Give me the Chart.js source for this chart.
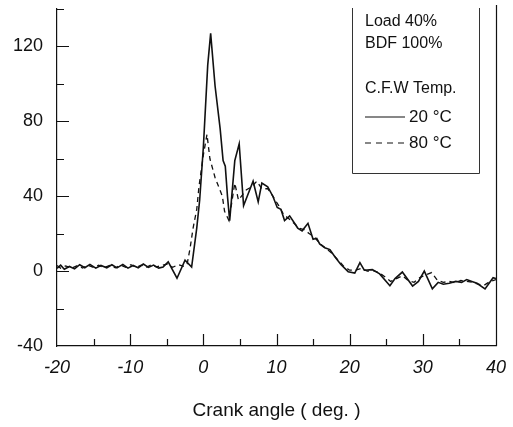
<!DOCTYPE html>
<html lang="en">
<head>
<meta charset="UTF-8">
<title>Heat release rate</title>
<script src="https://cdn.jsdelivr.net/npm/chart.js"></script>
<style>
  html, body { margin: 0; padding: 0; background: #fff; }
</style>
</head>
<body>
<canvas id="myChart" width="513" height="427"></canvas>
<script>
// crank angle (deg) and values
const angle20 = [-20, -19.5, -19, -18.3, -17.6, -16.9, -16.2, -15.5, -14.7, -14, -13.2, -12.5, -11.8, -11, -10.3, -9.6, -8.9, -8.2, -7.5, -6.8, -6.1, -5.5, -4.8, -3.6, -2.5, -1.6, -0.9, -0.5, 0, 0.6, 1.0, 1.6, 2.3, 2.7, 3.0, 3.3, 3.6, 4.3, 4.9, 5.5, 6.0, 6.4, 6.8, 7.5, 8.0, 8.8, 9.5, 10.1, 10.6, 11.1, 11.8, 12.4, 12.9, 13.5, 14.3, 15.0, 15.5, 15.9, 16.6, 17.3, 18.0, 18.8, 19.8, 20.7, 21.4, 22.0, 23.1, 24.1, 25.5, 26.2, 27.2, 28.6, 29.4, 30.2, 31.3, 32.1, 32.8, 33.6, 34.5, 35.3, 36.0, 36.7, 37.4, 38.5, 39.6, 40];
const heat20 = [1.5, 3.2, 1, 2.5, 1.2, 3.4, 1.8, 3.6, 1.6, 3, 1.8, 3.4, 1.7, 3.6, 1.6, 3, 1.8, 3.8, 2, 3.2, 1.6, 2.2, 5, -3.8, 5.8, 2.2, 23, 38, 66, 110, 127, 99, 76, 59, 56, 40, 27, 59, 68, 35, 40, 44, 48, 37, 47, 45, 40, 34, 33, 27, 29.5, 26, 23, 21.5, 25.5, 17, 17.5, 14.5, 12.5, 11.5, 7.5, 3.5, -0.3, -1, 4.5, 0.5, 0.8, -1.5, -7.8, -4, -0.5, -8, -5.5, 0, -9.5, -6, -7, -6.5, -5.5, -6, -4.5, -5.5, -6.5, -9.5, -3.5, -4];

const angle80 = [-20, -19.5, -18.8, -18, -17.2, -16.5, -15.8, -15, -14.3, -13.6, -12.8, -12, -11.3, -10.6, -9.9, -9.2, -8.5, -7.8, -7.1, -6.4, -5.7, -4.9, -4.2, -3.4, -2.6, -2.2, -1.8, -1.4, -0.9, -0.6, 0, 0.5, 0.9, 1.6, 2.2, 2.6, 2.9, 3.5, 4.3, 4.8, 5.4, 5.9, 6.6, 7.3, 8.0, 8.8, 9.5, 10.3, 11, 11.7, 12.4, 13.1, 13.8, 14.5, 15.2, 16, 16.8, 17.6, 18.4, 19.2, 20, 20.8, 21.6, 22.4, 23.2, 24, 24.8, 25.6, 26.4, 27.2, 28, 28.8, 29.6, 30.4, 31.2, 32, 32.8, 33.6, 34.4, 35.2, 36, 36.8, 37.6, 38.4, 39.2, 40];
const heat80 = [3, 1.5, 2.8, 1.5, 3, 1.6, 3.2, 2, 3.2, 1.8, 3, 1.8, 3.2, 2, 3.4, 2, 3.2, 2, 3.4, 2.2, 3, 3.8, 2, 3.5, 2.5, 4, 12.5, 23, 33, 45, 62, 73, 60, 50, 44, 40, 32, 27, 47, 38, 41, 43.5, 45, 48, 44, 44, 40, 35, 30, 28, 25.5, 23, 22, 20, 18, 14.5, 12, 9.5, 6, 2.5, 0.5, 0.5, 1.5, 0, 0.2, -0.8, -3, -5.5, -4, -2.5, -5, -6, -3.5, -2, -0.8, -5, -6, -5.5, -6.2, -5, -5.5, -6, -7, -7.5, -5.5, -4.5];

const xTicks = [-20, -10, 0, 10, 20, 30, 40];
const yTicks = [-40, 0, 40, 80, 120];
const legendLines = ['Load 40%', 'BDF 100%', '', 'C.F.W Temp.'];
const seriesNames = ['20 °C', '80 °C'];

const ink = '#111';
const font = '"Liberation Sans", Arial, sans-serif';

function pairs(xs, ys) {
  return xs.map((x, i) => ({ x: x, y: ys[i] }));
}

// inward tick marks, right border and the boxed legend
const framePlugin = {
  id: 'frame',
  afterDraw(chart) {
    const c = chart.ctx;
    const xs = chart.scales.x;
    const ys = chart.scales.y;
    const a = chart.chartArea;
    c.save();
    c.strokeStyle = ink;
    c.lineWidth = 1.2;
    c.beginPath();
    for (let v = -15; v < 40; v += 5) {
      const px = Math.round(xs.getPixelForValue(v)) + 0.5;
      const len = v % 10 === 0 ? 12 : 7;
      c.moveTo(px, a.bottom);
      c.lineTo(px, a.bottom - len);
    }
    for (let v = -20; v <= 140; v += 20) {
      const py = Math.round(ys.getPixelForValue(v)) + 0.5;
      const len = v % 40 === 0 ? 12 : 7;
      c.moveTo(a.left, py);
      c.lineTo(a.left + len, py);
    }
    // right border
    c.moveTo(a.right + 0.5, a.top - 4);
    c.lineTo(a.right + 0.5, a.bottom);
    c.stroke();

    // legend box
    c.lineWidth = 1;
    c.strokeStyle = '#333';
    c.beginPath();
    c.moveTo(352.5, 8);
    c.lineTo(352.5, 173.5);
    c.lineTo(479.5, 173.5);
    c.lineTo(479.5, 8);
    c.stroke();

    c.fillStyle = ink;
    c.font = '16px ' + font;
    c.textBaseline = 'middle';
    c.textAlign = 'left';
    const rows = [22, 44, 66, 89];
    legendLines.forEach((t, i) => { if (t) c.fillText(t, 365, rows[i]); });

    c.lineWidth = 1.2;
    c.strokeStyle = ink;
    c.beginPath();
    c.moveTo(365, 117); c.lineTo(405, 117);
    c.stroke();
    c.setLineDash([6, 5]);
    c.beginPath();
    c.moveTo(365, 143); c.lineTo(407, 143);
    c.stroke();
    c.setLineDash([]);
    c.font = '17px ' + font;
    c.fillText(seriesNames[0], 409, 117);
    c.fillText(seriesNames[1], 409, 143);
    c.restore();
  }
};

new Chart(document.getElementById('myChart'), {
  type: 'line',
  data: {
    datasets: [{
      label: seriesNames[0],
      data: pairs(angle20, heat20),
      borderColor: ink,
      borderWidth: 1.6,
      pointRadius: 0,
      tension: 0
    }, {
      label: seriesNames[1],
      data: pairs(angle80, heat80),
      borderColor: ink,
      borderWidth: 1.3,
      borderDash: [5, 4],
      pointRadius: 0,
      tension: 0
    }]
  },
  options: {
    responsive: false,
    animation: false,
    devicePixelRatio: 1,
    layout: { padding: { top: 9, right: 17, left: 0, bottom: 0 } },
    plugins: { legend: { display: false }, tooltip: { enabled: false } },
    scales: {
      x: {
        type: 'linear',
        min: -20,
        max: 40,
        afterFit(s) { s.height = 81; s.paddingLeft = 0; s.paddingRight = 0; },
        grid: { display: false, drawTicks: false },
        border: { display: true, color: ink, width: 1.2 },
        ticks: {
          stepSize: 10,
          padding: 11,
          color: ink,
          font: { family: font, size: 18, style: 'italic' },
          callback: (v) => xTicks.includes(v) ? String(v) : ''
        },
        title: {
          display: true,
          text: 'Crank angle ( deg. )',
          color: ink,
          font: { family: font, size: 19 },
          padding: { top: 0, bottom: 5 }
        }
      },
      y: {
        min: -40,
        max: 140,
        afterFit(s) { s.width = 57; s.paddingTop = 0; s.paddingBottom = 0; },
        grid: { display: false, drawTicks: false },
        border: { display: true, color: ink, width: 1.2 },
        ticks: {
          stepSize: 20,
          padding: 14,
          color: ink,
          font: { family: font, size: 18 },
          callback: (v) => yTicks.includes(v) ? String(v) : ''
        }
      }
    }
  },
  plugins: [framePlugin]
});
</script>
</body>
</html>
